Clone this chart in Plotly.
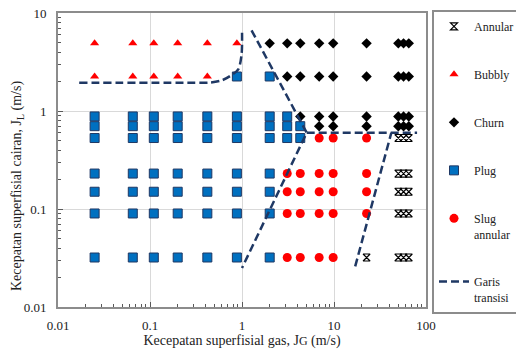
import plotly.graph_objects as go

# ---- data (JG in m/s, JL in m/s) ----
annular_jg = [50, 57, 65, 50, 57, 65, 50, 57, 65, 50, 57, 65, 22.6, 50, 57, 65]
annular_jl = [0.53, 0.53, 0.53, 0.23, 0.23, 0.23, 0.15, 0.15, 0.15, 0.09, 0.09, 0.09, 0.032, 0.032, 0.032, 0.032]

bubbly_jg = [0.025, 0.065, 0.11, 0.2, 0.42, 0.88, 0.025, 0.065, 0.11, 0.2, 0.42]
bubbly_jl = [4.9, 4.9, 4.9, 4.9, 4.9, 4.9, 2.25, 2.25, 2.25, 2.25, 2.25]

churn_jg = [2.0, 3.1, 4.3, 6.9, 9.8, 22.6, 50, 57, 65,
            3.1, 4.3, 6.9, 9.8, 22.6, 50, 57, 65,
            4.3, 6.9, 9.8, 22.6, 50, 57, 65,
            6.9, 9.8, 22.6, 50, 57, 65]
churn_jl = [4.9] * 9 + [2.25] * 8 + [0.88] * 7 + [0.7] * 6

plug_cols = [0.025, 0.065, 0.11, 0.2, 0.42, 0.88]
plug_rows = [0.88, 0.7, 0.53, 0.23, 0.15, 0.09, 0.032]
plug_jg = [c for r in plug_rows for c in plug_cols] + [0.88,
           2.0, 2.0, 2.0, 2.0, 2.0, 2.0, 2.0, 2.0,
           3.1, 3.1, 3.1, 4.3, 4.3]
plug_jl = [r for r in plug_rows for c in plug_cols] + [2.25,
           2.25, 0.88, 0.7, 0.53, 0.23, 0.15, 0.09, 0.032,
           0.88, 0.7, 0.53, 0.7, 0.53]

slug_jg = [6.9, 9.8, 22.6,
           3.1, 4.3, 6.9, 9.8, 22.6,
           3.1, 4.3, 6.9, 9.8, 22.6,
           3.1, 4.3, 6.9, 9.8, 22.6,
           3.1, 4.3, 6.9, 9.8]
slug_jl = [0.53] * 3 + [0.23] * 5 + [0.15] * 5 + [0.09] * 5 + [0.032] * 4

# transition lines
curve_jg = [0.017, 0.3, 0.45, 0.6, 0.74, 0.91, 0.99, 1.0]
curve_jl = [1.94, 1.94, 1.95, 2.05, 2.27, 2.66, 3.8, 6.66]
trans_jg = [1.27, 5.05, 1.0, None, 5.05, 80, None, 17, 42]
trans_jl = [6.66, 0.6, 0.025, None, 0.6, 0.6, None, 0.026, 0.6]

x_ticks = [0.01, 0.1, 1, 10, 100]
x_ticktext = ["0.01", "0.1", "1", "10", "100"]
y_ticks = [0.01, 0.1, 1, 10]
y_ticktext = ["0.01", "0.1", "1", "10"]

FONT = "Liberation Serif"
LINE_COL = "#1f3864"
AX_COL = "#8c8c8c"

minor_x = [k * 10 ** e for e in range(-2, 2) for k in range(2, 10)]
minor_y = [k * 10 ** e for e in range(-2, 1) for k in range(2, 10)]

fig = go.Figure()
fig.add_trace(go.Scatter(x=annular_jg, y=annular_jl, mode="markers", name="Annular",
                         legendgroup="a",
                         marker=dict(symbol="hourglass-open", size=7, color="#000000",
                                     line=dict(width=1.2, color="#000000"))))
fig.add_trace(go.Scatter(x=bubbly_jg, y=bubbly_jl, mode="markers", name="Bubbly",
                         legendgroup="b",
                         marker=dict(symbol="triangle-up", size=8, color="#ff0000",
                                     line=dict(width=0))))
fig.add_trace(go.Scatter(x=churn_jg, y=churn_jl, mode="markers", name="Churn",
                         legendgroup="c",
                         marker=dict(symbol="diamond", size=8, color="#000000",
                                     line=dict(width=0))))
fig.add_trace(go.Scatter(x=plug_jg, y=plug_jl, mode="markers", name="Plug",
                         legendgroup="d",
                         marker=dict(symbol="square", size=9, color="#0070c0",
                                     line=dict(width=1, color="#1f3864"))))
fig.add_trace(go.Scatter(x=slug_jg, y=slug_jl, mode="markers", name="Slug<br>annular",
                         legendgroup="e",
                         marker=dict(symbol="circle", size=9, color="#ff0000",
                                     line=dict(width=0))))
fig.add_trace(go.Scatter(x=curve_jg, y=curve_jl, mode="lines", showlegend=False,
                         legendgroup="f",
                         line=dict(color=LINE_COL, width=2.5, dash="8px,4px",
                                   shape="spline", smoothing=0.8)))
fig.add_trace(go.Scatter(x=trans_jg, y=trans_jl, mode="lines", name="Garis<br>transisi",
                         legendgroup="f", connectgaps=False,
                         line=dict(color=LINE_COL, width=2.5, dash="8px,4px")))

axis_common = dict(
    type="log", showline=True, linecolor=AX_COL, linewidth=2, mirror=True,
    showgrid=True, gridcolor="#d9d9d9", gridwidth=1, zeroline=False,
    ticks="inside", ticklen=5, tickcolor="#595959", tickwidth=1,
    tickfont=dict(family=FONT, size=13, color="#222222"),
    automargin=False,
)

fig.update_layout(
    width=516, height=349,
    margin=dict(l=58, r=90, t=13, b=42, autoexpand=False),
    paper_bgcolor="white", plot_bgcolor="white",
    font=dict(family=FONT, size=12, color="#222222"),
    showlegend=True,
    legend=dict(x=(432 - 58) / 368, xanchor="left", y=1.01, yanchor="top",
                bordercolor=AX_COL, borderwidth=2, bgcolor="white",
                font=dict(family=FONT, size=12, color="#222222"),
                tracegroupgap=29, valign="top", itemwidth=30, maxheight=340),
    xaxis=dict(axis_common, range=[-2, 2], tickmode="array", tickvals=x_ticks,
               ticktext=x_ticktext, ticklabelstandoff=5,
               minor=dict(tickmode="array", tickvals=minor_x, ticks="inside",
                          ticklen=3, tickcolor="#595959", showgrid=False),
               title=dict(text="Kecepatan superfisial gas, J<span style='font-size:12px'>G</span> (m/s)",
                          font=dict(family=FONT, size=14, color="#222222"), standoff=6)),
    yaxis=dict(axis_common, range=[-2, 1], tickmode="array", tickvals=y_ticks,
               ticktext=y_ticktext, ticklabelstandoff=7,
               minor=dict(tickmode="array", tickvals=minor_y, ticks="inside",
                          ticklen=3, tickcolor="#595959", showgrid=False)),
    annotations=[dict(text="Kecepatan superfisial cairan, J<sub>L</sub> (m/s)",
                      xref="paper", yref="paper", x=(17 - 58) / 368, y=(307 - 186) / 294,
                      xanchor="center", yanchor="middle", textangle=-90, showarrow=False,
                      font=dict(family=FONT, size=14, color="#222222"))],
)

fig.write_html("out.html")
